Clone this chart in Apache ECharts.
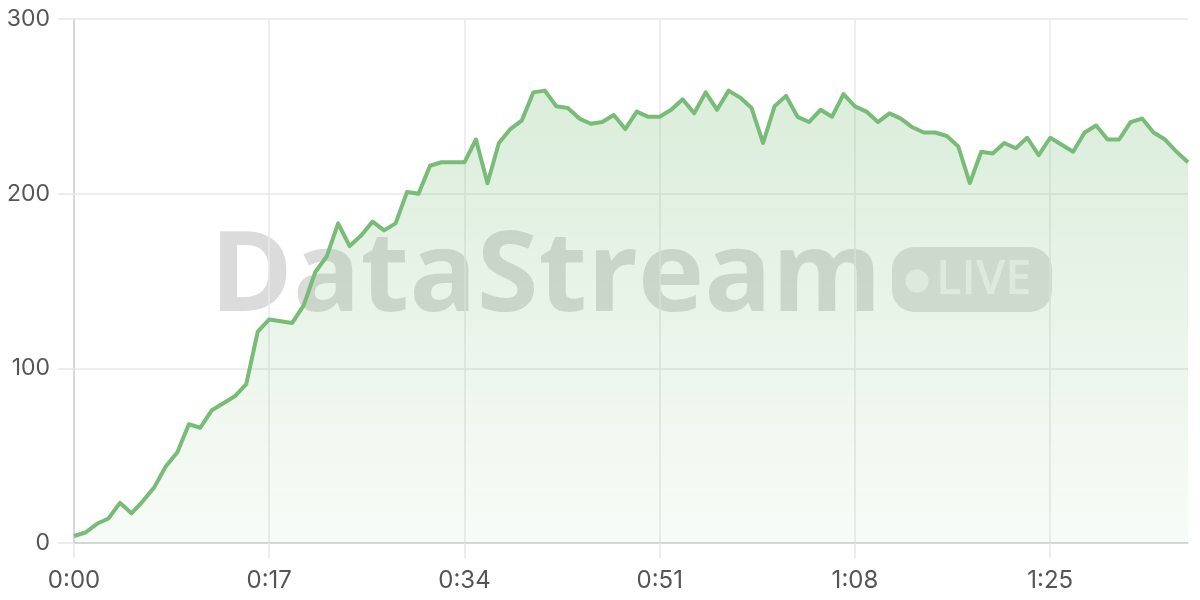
<!DOCTYPE html>
<html lang="en">
<head>
    <meta charset="UTF-8">
    <title>DataStream LIVE</title>
    <script src="https://cdn.jsdelivr.net/npm/echarts@6/dist/echarts.min.js"></script>
    <style>
        html, body { margin: 0; padding: 0; background: #fff; }
        #chart { width: 1200px; height: 600px; }
    </style>
</head>
<body>
    <div id="chart"></div>
    <script type="text/javascript">
        // one reading per second, 0:00 .. 1:37
        var values = [
            4, 6, 11, 14, 23, 17, 24, 32, 44, 52,
            68, 66, 76, 80, 84, 91, 121, 128, 127, 126,
            136, 155, 164, 183, 170, 176, 184, 179, 183, 201,
            200, 216, 218, 218, 218, 231, 206, 229, 237, 242,
            258, 259, 250, 249, 243, 240, 241, 245, 237, 247,
            244, 244, 248, 254, 246, 258, 248, 259, 255, 249,
            229, 250, 256, 244, 241, 248, 244, 257, 250, 247,
            241, 246, 243, 238, 235, 235, 233, 227, 206, 224,
            223, 229, 226, 232, 222, 232, 228, 224, 235, 239,
            231, 231, 241, 243, 235, 231, 224, 218
        ];
        var yTicks = [0, 100, 200, 300];
        var xTickLabels = ['0:00', '0:17', '0:34', '0:51', '1:08', '1:25'];

        // category labels m:ss for each second
        var times = values.map(function (v, i) {
            var s = i % 60;
            return Math.floor(i / 60) + ':' + (s < 10 ? '0' + s : s);
        });

        var lineColor = '#78bc78';
        var chart = echarts.init(document.getElementById('chart'));

        var option = {
            animation: false,
            grid: { left: 74, right: 12, top: 19, bottom: 57 },
            graphic: [
                {
                    type: 'text', left: 210, top: 223, z: 0,
                    style: {
                        text: 'DataStream', fill: 'rgba(0,0,0,0.14)',
                        font: 'bold 112px "Open Sans"'
                    }
                },
                {
                    type: 'rect', left: 892, top: 247, z: 0,
                    shape: { width: 160, height: 65, r: 22 },
                    style: { fill: 'rgba(0,0,0,0.12)' }
                },
                {
                    type: 'circle', z: 1,
                    shape: { cx: 917, cy: 281, r: 11.5 },
                    style: { fill: 'rgba(255,255,255,0.6)' }
                },
                {
                    type: 'text', left: 936, top: 257, z: 1,
                    style: {
                        text: 'LIVE', fill: 'rgba(255,255,255,0.6)',
                        font: '600 47px "Open Sans"'
                    }
                }
            ],
            xAxis: {
                type: 'category',
                data: times,
                boundaryGap: false,
                axisLine: { lineStyle: { color: '#d0d0d0', width: 1.5 } },
                axisTick: { show: true, interval: 16, length: 15, lineStyle: { color: '#e6e6e6', width: 1.5 } },
                splitLine: { show: true, interval: 16, lineStyle: { color: '#e8e8e8', width: 1.5 } },
                axisLabel: {
                    interval: 16,
                    margin: 26,
                    color: '#555',
                    fontSize: 24,
                    fontFamily: 'Inter',
                    formatter: function (val, idx) { return xTickLabels[idx / 17]; }
                }
            },
            yAxis: {
                type: 'value',
                min: 0, max: 300, interval: 100,
                axisLine: { show: true, lineStyle: { color: '#d0d0d0', width: 1.5 } },
                axisTick: { show: true, length: 16, lineStyle: { color: '#e6e6e6', width: 1.5 } },
                splitLine: { lineStyle: { color: '#e8e8e8', width: 1.5 } },
                axisLabel: {
                    margin: 24,
                    color: '#555',
                    fontSize: 23,
                    fontFamily: 'Inter',
                    formatter: function (v) { return yTicks.indexOf(v) >= 0 ? String(v) : ''; }
                }
            },
            series: [
                {
                    type: 'line',
                    data: values,
                    showSymbol: false,
                    z: 2,
                    lineStyle: { color: lineColor, width: 4, join: 'round' },
                    areaStyle: {
                        color: new echarts.graphic.LinearGradient(0, 0, 0, 1, [
                            { offset: 0, color: 'rgba(120,188,120,0.38)' },
                            { offset: 1, color: 'rgba(120,188,120,0.08)' }
                        ])
                    }
                }
            ]
        };

        chart.setOption(option);
    </script>
</body>
</html>
